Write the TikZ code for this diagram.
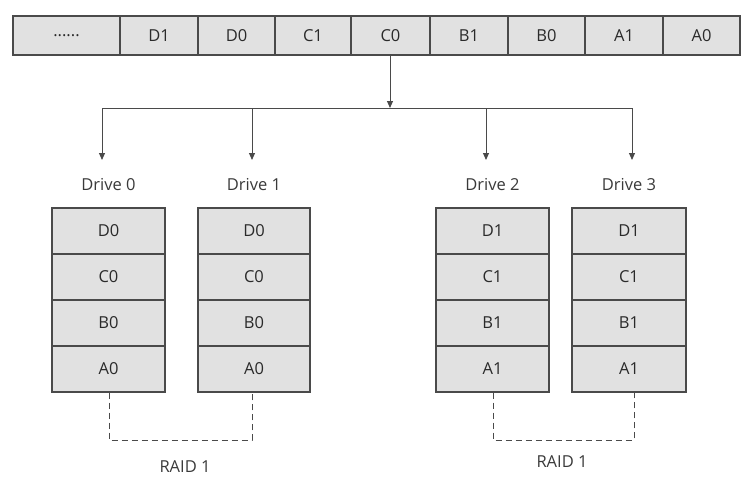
\documentclass[tikz,border=0pt]{standalone}
\usepackage{fontspec}
\setmainfont{Open Sans}
\usetikzlibrary{arrows.meta}
\definecolor{cellfill}{HTML}{E1E1E1}
\definecolor{cellline}{HTML}{4A4A4A}
\definecolor{txt}{HTML}{2A2A2A}
\definecolor{lbl}{HTML}{3A3A3A}
\begin{document}
\begin{tikzpicture}[x=1pt,y=-1pt,
  cellbox/.style={draw=cellline,line width=1.3pt,fill=cellfill,inner sep=0pt,
    text=txt,font=\fontsize{16.5}{16.5}\selectfont},
  lbltext/.style={text=lbl,inner sep=1pt,font=\fontsize{16.5}{16.5}\selectfont},
  conn/.style={draw=cellline,line width=1pt},
  arr/.style={conn,-{Triangle[length=7pt,width=6pt]}},
  dashln/.style={draw=cellline,line width=1pt,dash pattern=on 6pt off 4pt}]
\useasboundingbox (0,0) rectangle (752,498);
% top bar
\foreach \a/\b/\t/\n in {13/120/{......}/c0,120/198/D1/c1,198/275/D0/c2,275/351/C1/c3,351/430/C0/c4,430/508/B1/c5,508/585/B0/c6,585/663/A1/c7,663/740/A0/c8}{
  \node[cellbox,minimum width={(\b-\a)*1pt},minimum height=39pt] (\n) at ({(\a+\b)/2},35.5) {\t};
}
% junction
\coordinate (jc) at (390,108);
\coordinate (j0) at (102,108);
\coordinate (j1) at (252,108);
\coordinate (j2) at (486,108);
\coordinate (j3) at (632,108);
\draw[arr] (c4.south -| jc) -- (jc);
\draw[conn] (j0) -- (j3);
% drives
\foreach \i/\a/\b/\p in {0/52/165/0,1/198/310/0,2/436/549/1,3/572/686/1}{
  \node[lbltext] (lab\i) at ({(\a+\b)/2},185) {Drive \i};
  \foreach \r/\L in {0/D,1/C,2/B,3/A}{
    \node[cellbox,minimum width={(\b-\a)*1pt},minimum height=46pt] (d\i\r) at ({(\a+\b)/2},{231+46*\r}) {\L\p};
  }
}
\foreach \i in {0,1,2,3}{
  \draw[arr] (j\i) -- (j\i |- 0,160);
}
% RAID 1 dashed links
\coordinate (r0) at (109,440);
\coordinate (r1) at (252,440);
\coordinate (r2) at (493,440);
\coordinate (r3) at (634,440);
\draw[dashln] (r0 |- d03.south) -- (r0) -- (r1) -- (r1 |- d13.south);
\draw[dashln] (r2 |- d23.south) -- (r2) -- (r3) -- (r3 |- d33.south);
\node[lbltext] (raidA) at (185,467) {RAID 1};
\node[lbltext] (raidB) at (562,462) {RAID 1};
\end{tikzpicture}
\end{document}
